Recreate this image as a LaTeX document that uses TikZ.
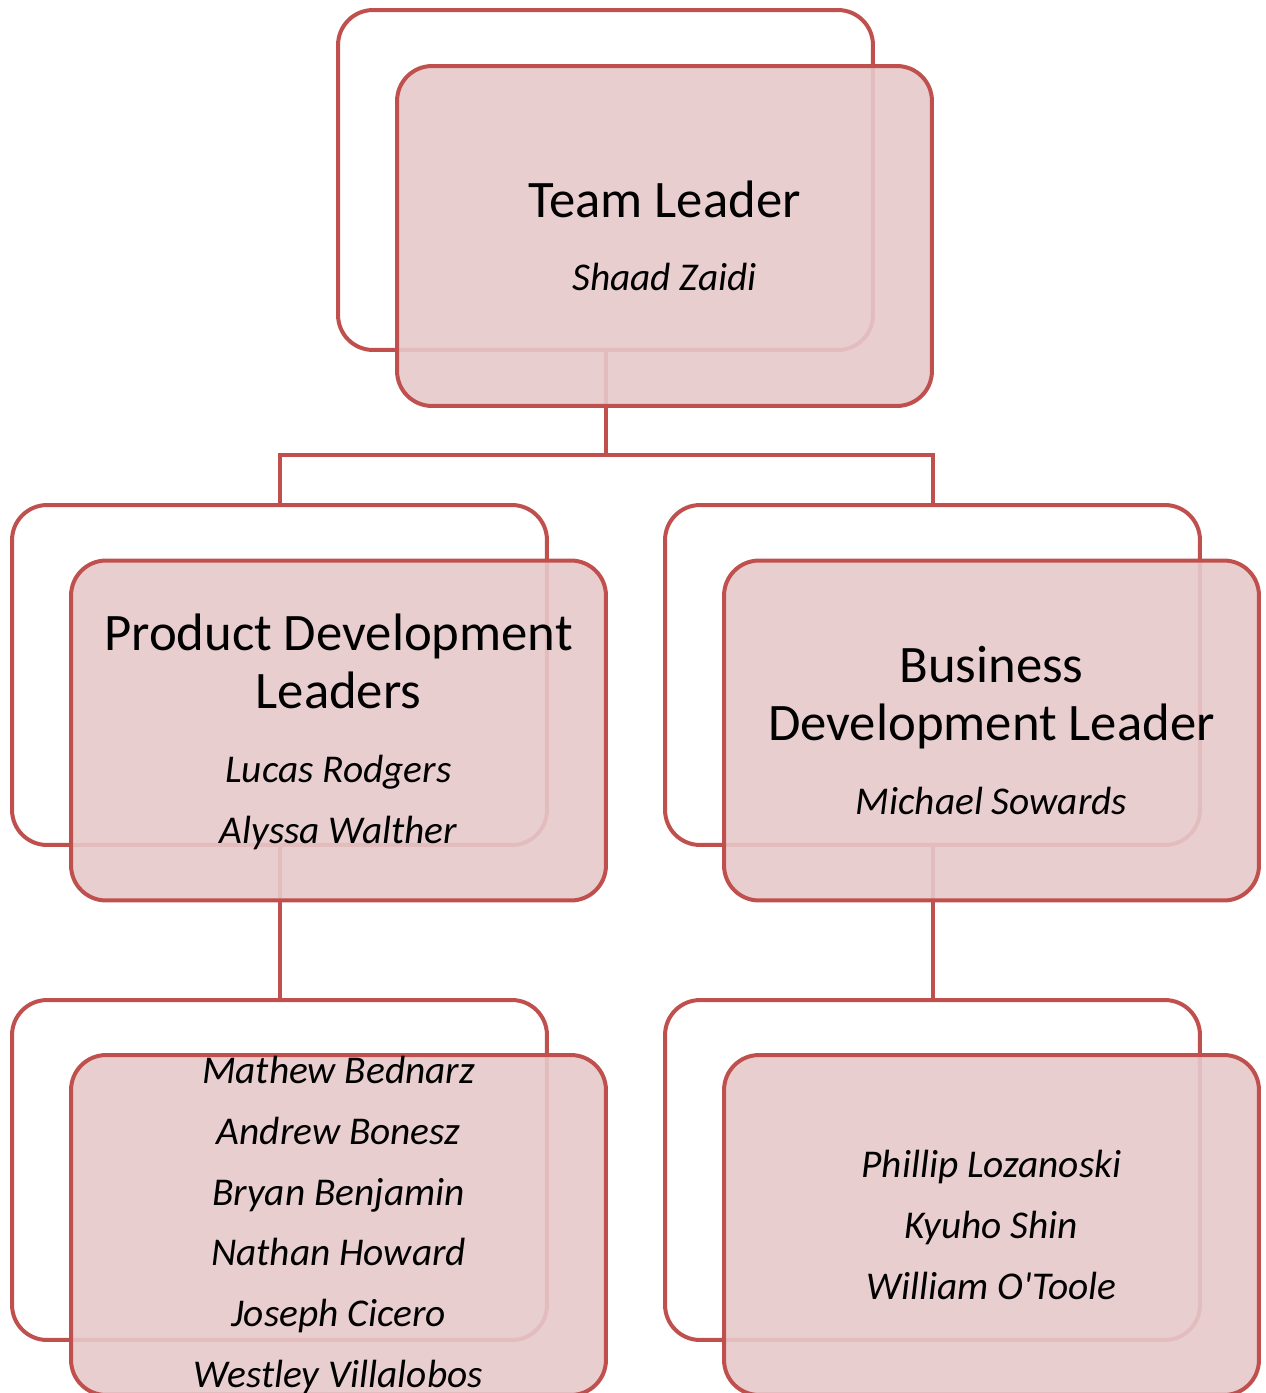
\documentclass[tikz,border=0pt]{standalone}
\usepackage{fontspec}
\setmainfont{Carlito}
\usetikzlibrary{positioning}
\definecolor{boxred}{RGB}{192,80,77}
\definecolor{boxpink}{RGB}{231,201,203}
\newcommand{\headline}[1]{{\fontsize{30}{32}\selectfont\upshape #1}}
\tikzset{
    backbox/.style ={
        shape=rectangle,
        rounded corners=0.7cm,
        draw=boxred,
        fill=white,
        line width=0.08cm,
        minimum width=10.7cm,
        minimum height=6.8cm
    },
    frontbox/.style ={
        shape=rectangle,
        rounded corners=0.7cm,
        draw=boxred,
        fill=boxpink,
        fill opacity=0.9,
        line width=0.08cm,
        minimum width=10.7cm,
        minimum height=6.8cm
    },
    names/.style ={
        align=center,
        inner sep=0pt,
        font=\fontsize{22.4}{34.7}\selectfont\itshape
    },
    link/.style ={
        draw=boxred,
        line width=0.08cm
    }
}

\begin{document}
\begin{tikzpicture}[x=0.02cm,y=-0.02cm]
    \useasboundingbox (0,0) rectangle (1266,1393);
    \clip (0,0) rectangle (1266,1393);
    % back frames
    \node[backbox] (leadback) at(605.5,180) {};
    \node[backbox] (prodback) at(279.5,675) {};
    \node[backbox] (busback) at(932.5,675) {};
    \node[backbox] (devback) at(279.5,1170) {};
    \node[backbox] (salesback) at(932.5,1170) {};
    % connectors
    \coordinate (split) at(605.5,455);
    \draw[link] (leadback.south) -- (split) -| (prodback.north);
    \draw[link] (split) -| (busback.north);
    \draw[link] (prodback.south) -- (devback.north);
    \draw[link] (busback.south) -- (salesback.north);
    % front boxes
    \node[frontbox] (leadfront) at(664.5,236) {};
    \node[frontbox] (prodfront) at(338.5,730.5) {};
    \node[frontbox] (busfront) at(991.5,730.5) {};
    \node[frontbox] (devfront) at(338.5,1225) {};
    \node[frontbox] (salesfront) at(991.5,1225) {};
    % texts
    \node[names] (leadtext) at(leadfront) {\headline{Team Leader}\\[7pt]Shaad Zaidi};
    \node[names,yshift=-1pt] (prodtext) at(prodfront) {\headline{Product Development}\\[-1.8pt]\headline{Leaders}\\[7.5pt]Lucas Rodgers\\Alyssa Walther};
    \node[names] (bustext) at(busfront) {\headline{Business}\\[-1.8pt]\headline{Development Leader}\\[7.5pt]Michael Sowards};
    \node[names] (devtext) at(devfront) {Mathew Bednarz\\Andrew Bonesz\\Bryan Benjamin\\Nathan Howard\\Joseph Cicero\\Westley Villalobos};
    \node[names] (salestext) at(salesfront) {Phillip Lozanoski\\Kyuho Shin\\William O\textquotesingle Toole};
\end{tikzpicture}
\end{document}
